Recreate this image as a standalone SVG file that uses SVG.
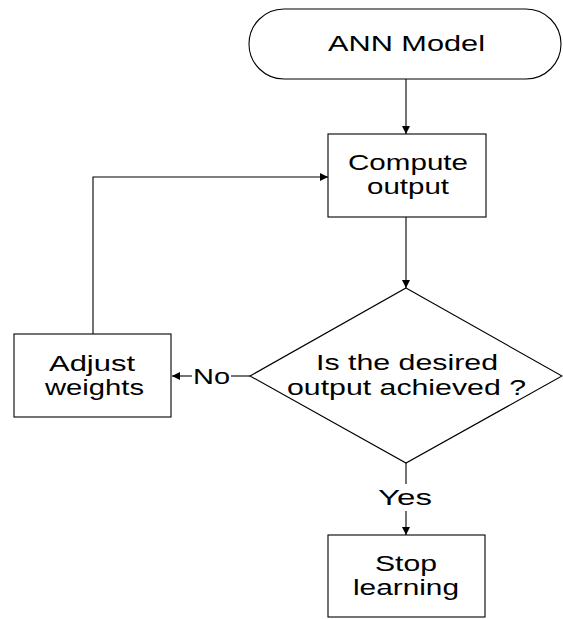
<svg xmlns="http://www.w3.org/2000/svg" width="563" height="619" viewBox="0 0 563 619">
<style>
.s{fill:#fff;stroke:#000;stroke-width:1.1}
.c{fill:none;stroke:#000;stroke-width:1.1}
text{font-family:"Liberation Sans",Arial,sans-serif;font-size:22px;fill:#000;text-anchor:middle}
</style>
<defs>
<marker id="a" viewBox="0 0 10 10" refX="10" refY="5" markerWidth="10" markerHeight="8" markerUnits="userSpaceOnUse" orient="auto">
<path d="M0,0 L10,5 L0,10 z" fill="#000"/>
</marker>
</defs>
<rect width="563" height="619" fill="#fff"/>
<g id="connectors">
<line class="c" x1="406" y1="79" x2="406" y2="134" marker-end="url(#a)"/>
<line class="c" x1="406" y1="217" x2="406" y2="288" marker-end="url(#a)"/>
<polyline class="c" points="93,334 93,177 328,177" marker-end="url(#a)"/>
<line class="c" x1="250" y1="376" x2="231" y2="376"/>
<line class="c" x1="192" y1="376" x2="172" y2="376" marker-end="url(#a)"/>
<text x="211.5" y="384" textLength="37" lengthAdjust="spacingAndGlyphs">No</text>
<line class="c" x1="406" y1="463" x2="406" y2="484"/>
<line class="c" x1="406" y1="511" x2="406" y2="535" marker-end="url(#a)"/>
<text x="405" y="505" textLength="54" lengthAdjust="spacingAndGlyphs">Yes</text>
</g>
<g id="ann">
<rect class="s" x="249" y="9" width="312" height="70" rx="35" ry="35"/>
<text x="406.5" y="51" textLength="157" lengthAdjust="spacingAndGlyphs">ANN Model</text>
</g>
<g id="compute">
<rect class="s" x="328" y="134" width="158" height="83"/>
<text x="408" y="170" textLength="120" lengthAdjust="spacingAndGlyphs">Compute</text>
<text x="408" y="194" textLength="82" lengthAdjust="spacingAndGlyphs">output</text>
</g>
<g id="decision">
<polygon class="s" points="406,288 562,376 406,463 250,376"/>
<text x="407" y="370" textLength="182" lengthAdjust="spacingAndGlyphs">Is the desired</text>
<text x="406.5" y="395" textLength="239" lengthAdjust="spacingAndGlyphs">output achieved ?</text>
</g>
<g id="adjust">
<rect class="s" x="14" y="334" width="157" height="83"/>
<text x="92" y="371" textLength="86" lengthAdjust="spacingAndGlyphs">Adjust</text>
<text x="94.5" y="395" textLength="99" lengthAdjust="spacingAndGlyphs">weights</text>
</g>
<g id="stop">
<rect class="s" x="328" y="535" width="157" height="82"/>
<text x="406" y="571" textLength="62" lengthAdjust="spacingAndGlyphs">Stop</text>
<text x="406" y="595" textLength="106" lengthAdjust="spacingAndGlyphs">learning</text>
</g>
</svg>
